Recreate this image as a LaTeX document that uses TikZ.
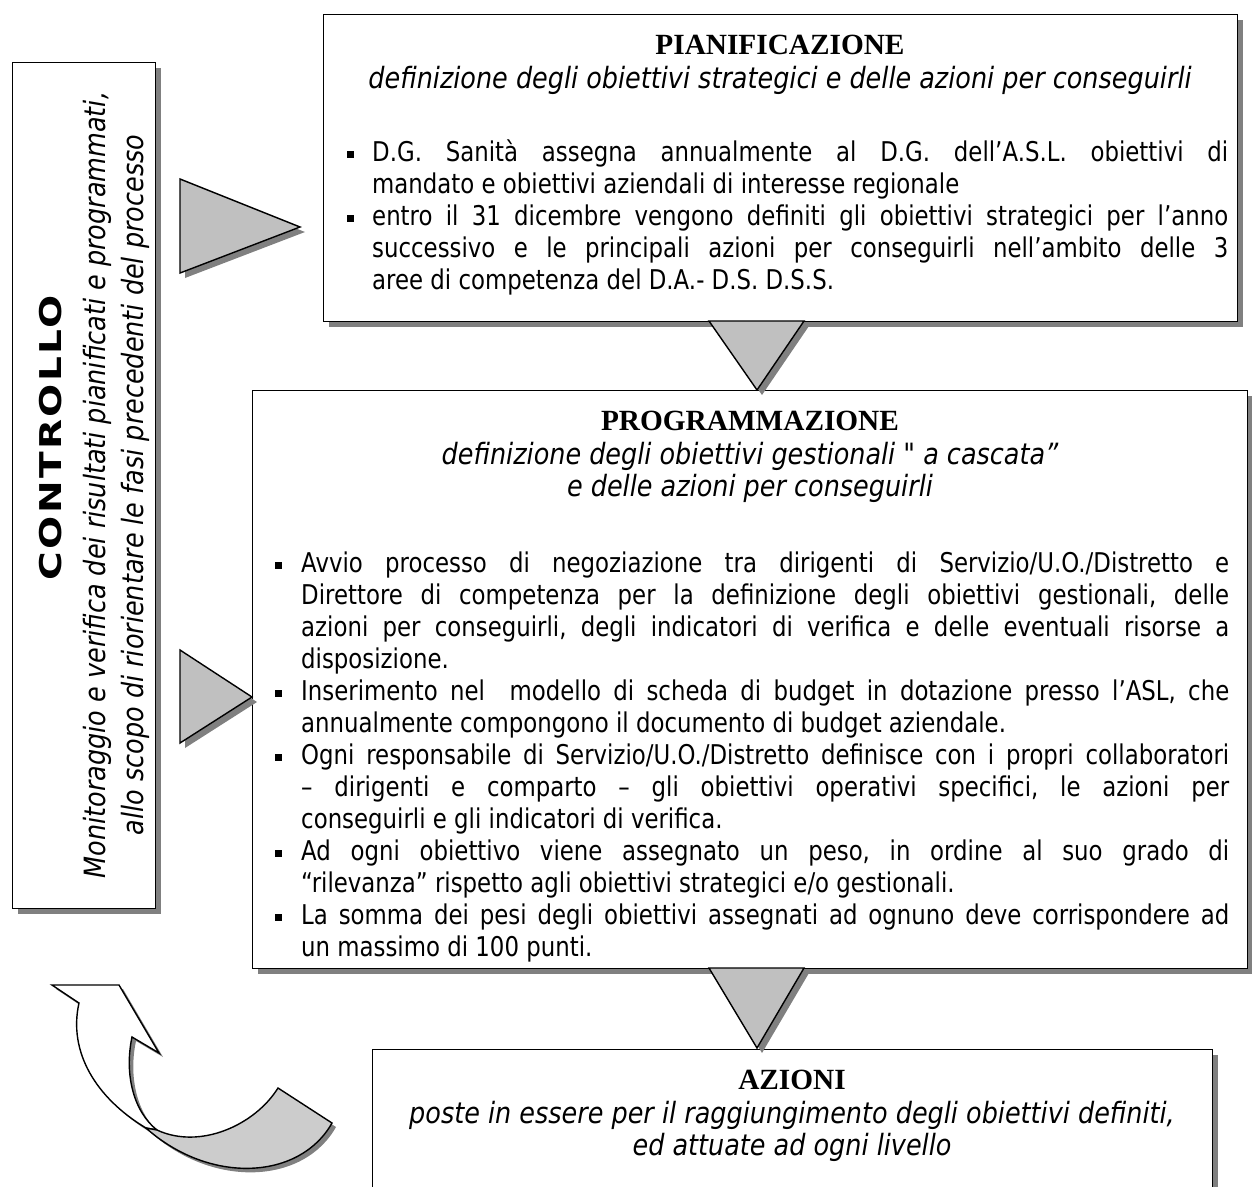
\documentclass[tikz,border=0pt]{standalone}
\usepackage{fontspec}
\setmainfont{Liberation Serif}
\newfontfamily\bodyfont[FakeStretch=0.84]{DejaVu Sans}
\newfontfamily\subfont[FakeStretch=0.87]{DejaVu Sans}
\newfontfamily\headfont[FakeStretch=1.3,LetterSpace=8]{DejaVu Sans Bold}
\usetikzlibrary{shadows}

\definecolor{shgray}{RGB}{128,128,128}
\definecolor{trigray}{RGB}{192,192,192}
\definecolor{ribgray}{RGB}{204,204,204}

% bullet paragraph with a small square marker and hanging indent
\newcommand\bitem[2]{\par\noindent\hangindent=#1pt\hangafter=1%
  \makebox[#1pt][l]{\raisebox{3.5pt}{\rule{7pt}{7pt}}}\ignorespaces#2}
\newcommand\listsetup{\parindent=0pt\parskip=0pt\rightskip=0pt\leftskip=0pt
  \parfillskip=0pt plus 1fil\tolerance=10000\hyphenpenalty=10000\hbadness=10000
  \frenchspacing
  \spaceskip=\fontdimen2\font plus 4\fontdimen2\font minus 0.2\fontdimen2\font}

\tikzset{
  panel/.style={draw=black, line width=1.4pt, fill=white, inner sep=0pt,
    anchor=north west,
    drop shadow={shadow xshift=5pt, shadow yshift=-5pt, opacity=1, fill=shgray}},
  ttl/.style={font=\fontsize{29.3}{35}\selectfont\bfseries, inner sep=0pt, anchor=base},
  sub/.style={font=\subfont\itshape\fontsize{29.3}{37}\selectfont, inner sep=0pt, anchor=base},
  blist/.style={font=\bodyfont\fontsize{27.2}{32}\selectfont, inner sep=0pt, anchor=base west},
  tri/.style={fill=trigray, draw=black, line width=1.4pt, line join=miter},
  trishadow/.style={fill=shgray, draw=none},
}

\begin{document}
\begin{tikzpicture}[x=1pt,y=-1pt]
\useasboundingbox (0,0) rectangle (1252,1186);

% ---------- boxes ----------
\node[panel, minimum width=143pt, minimum height=846pt] (ctrl) at (12,62) {};
\node[panel, minimum width=914pt, minimum height=307pt] (pian) at (323,14) {};
\node[panel, minimum width=995pt, minimum height=578pt] (prog) at (252,390) {};
\node[panel, minimum width=840pt, minimum height=200pt] (azi) at (372,1049) {};

% ---------- connecting triangles ----------
\newcommand\triA{(180,179) -- (180,273) -- (300,227) -- cycle}
\newcommand\triB{(180,650) -- (180,743) -- (252,697) -- cycle}
\newcommand\triC{(709,321) -- (804,321) -- (757,390) -- cycle}
\newcommand\triD{(709,968) -- (804,968) -- (757,1048) -- cycle}
\begin{scope}[shift={(5,5)}]
  \fill[trishadow] \triA;
  \fill[trishadow] \triB;
  \fill[trishadow] \triC;
  \fill[trishadow] \triD;
\end{scope}
\draw[tri] \triA;
\draw[tri] \triB;
\draw[tri] \triC;
\draw[tri] \triD;

% ---------- curved return arrow ----------
\newcommand\ribbonall{(79,1003) -- (52,985) -- (119,985) -- (159,1053) -- (132,1037)
  .. controls (124,1075) and (134,1112) .. (157,1130)
  .. controls (200,1150) and (255,1125) .. (278,1088) -- (332,1123)
  .. controls (300,1180) and (210,1185) .. (146,1128)
  .. controls (96,1098) and (68,1052) .. (79,1003) -- cycle}
\newcommand\ribbonfront{(79,1003) -- (52,985) -- (119,985) -- (159,1053) -- (132,1037)
  .. controls (124,1075) and (134,1112) .. (157,1130) -- (146,1128)
  .. controls (96,1098) and (68,1052) .. (79,1003) -- cycle}
\newcommand\ribbonback{(157,1130)
  .. controls (200,1150) and (255,1125) .. (278,1088) -- (332,1123)
  .. controls (300,1180) and (210,1185) .. (146,1128) -- cycle}
\fill[shgray, shift={(4,4)}] \ribbonall;
\draw[fill=white, line width=1.4pt, line join=miter] \ribbonfront;
\draw[fill=ribgray, line width=1.4pt, line join=miter] \ribbonback;

% ---------- CONTROLLO ----------
\node[font=\headfont\fontsize{30}{36}\selectfont, inner sep=0pt,
  anchor=base, rotate=90] (ctrlt) at (61,438) {CONTROLLO};
\node[sub, rotate=90] (ctrls1) at (105,485)
  {Monitoraggio e verifica dei risultati pianificati e programmati,};
\node[sub, rotate=90] (ctrls2) at (143,485)
  {allo scopo di riorientare le fasi precedenti del processo};

% ---------- PIANIFICAZIONE ----------
\node[ttl] (piant) at (780,54) {PIANIFICAZIONE};
\node[sub] (pians) at (780,88)
  {definizione degli obiettivi strategici e delle azioni per conseguirli};
\node[blist, text width=881pt] (pianl) at (347,129) {\listsetup
  \bitem{25}{D.G. Sanità assegna annualmente al D.G. dell’A.S.L. obiettivi di\linebreak
    mandato e obiettivi aziendali di interesse regionale}
  \bitem{25}{entro il 31 dicembre vengono definiti gli obiettivi strategici per l’anno\linebreak
    successivo e le principali azioni per conseguirli nell’ambito delle 3\linebreak
    aree di competenza del D.A.- D.S. D.S.S.}\par};

% ---------- PROGRAMMAZIONE ----------
\node[ttl] (progt) at (750,430) {PROGRAMMAZIONE};
\node[sub] (progs1) at (750,464)
  {definizione degli obiettivi gestionali " a cascata”};
\node[sub] (progs2) at (750,496) {e delle azioni per conseguirli};
\node[blist, text width=954pt] (progl) at (275,540) {\listsetup
  \bitem{26}{Avvio processo di negoziazione tra dirigenti di Servizio/U.O./Distretto e\linebreak
    Direttore di competenza per la definizione degli obiettivi gestionali, delle\linebreak
    azioni per conseguirli, degli indicatori di verifica e delle eventuali risorse a\linebreak
    disposizione.}
  \bitem{26}{Inserimento nel\ \ modello di scheda di budget in dotazione presso l’ASL, che\linebreak
    annualmente compongono il documento di budget aziendale.}
  \bitem{26}{Ogni responsabile di Servizio/U.O./Distretto definisce con i propri collaboratori\linebreak
    – dirigenti e comparto – gli obiettivi operativi specifici, le azioni per\linebreak
    conseguirli e gli indicatori di verifica.}
  \bitem{26}{Ad ogni obiettivo viene assegnato un peso, in ordine al suo grado di\linebreak
    “rilevanza” rispetto agli obiettivi strategici e/o gestionali.}
  \bitem{26}{La somma dei pesi degli obiettivi assegnati ad ognuno deve corrispondere ad\linebreak
    un massimo di 100 punti.}\par};

% ---------- AZIONI ----------
\node[ttl] (azit) at (792,1089) {AZIONI};
\node[sub] (azis1) at (792,1123)
  {poste in essere per il raggiungimento degli obiettivi definiti,};
\node[sub] (azis2) at (792,1155) {ed attuate ad ogni livello};
\end{tikzpicture}
\end{document}
